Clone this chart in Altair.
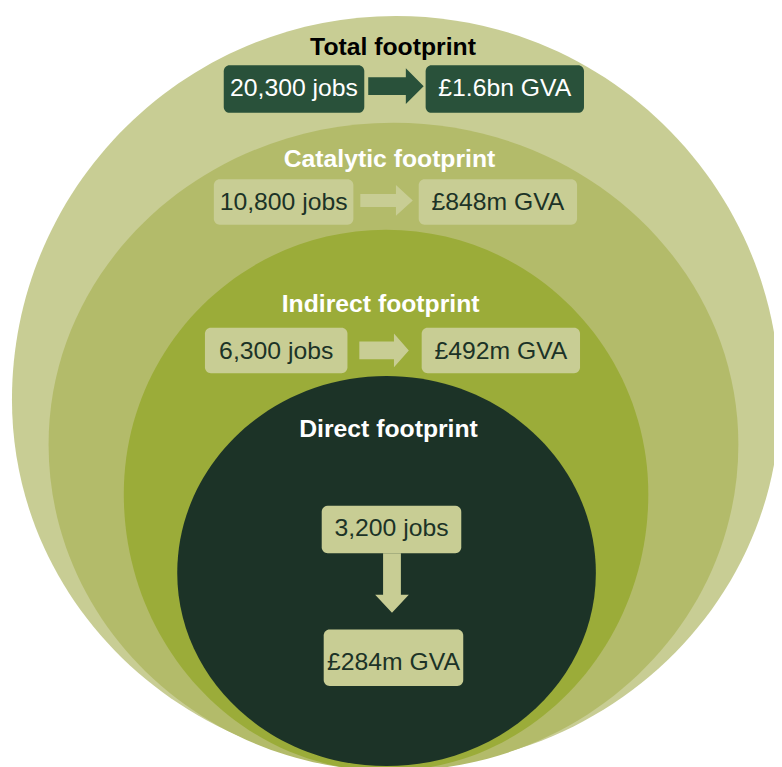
import altair as alt
import pandas as pd

# ---------------- data ----------------
levels = ["Total footprint", "Catalytic footprint", "Indirect footprint", "Direct footprint"]
jobs = ["20,300 jobs", "10,800 jobs", "6,300 jobs", "3,200 jobs"]
gva = ["£1.6bn GVA", "£848m GVA", "£492m GVA", "£284m GVA"]

# ---------------- layout (page pixels) ----------------
ring_cx = [400, 397.5, 390, 390.5]
ring_cy = [400, 445, 495, 575]
ring_a = [388, 348.5, 265, 211.5]
ring_top = [12, 120, 228, 376]
ring_bottom = [772, 775, 775, 770]
ring_fill = ["#c8cd94", "#b3bb6a", "#9bac39", "#1c3327"]

title_x = [397, 393.5, 384.5, 392.5]
title_base = [52, 165, 311, 438]
title_color = ["#000000", "#ffffff", "#ffffff", "#ffffff"]

# boxes: jobs box then GVA box for each level (x1, y1, x2, y2)
jobs_box = [(226, 62, 368, 110), (216, 177, 357, 223), (207, 327, 351, 373), (325, 507, 466, 555)]
gva_box = [(430, 62, 590, 110), (423, 177, 583, 223), (426, 327, 586, 373), (327, 632, 468, 689)]
jobs_base = [93, 208, 359, 538]
gva_base = [93, 208, 359, 673]
box_fill = ["#29513a", "#c8cd94", "#c8cd94", "#c8cd94"]
box_text = ["#ffffff", "#1c3327", "#1c3327", "#1c3327"]

# arrows: centre, half length, shaft half width, head half width, head start (fraction), direction
arrow_c = [(400, 83), (390.5, 198.5), (388, 350), (396, 585)]
arrow_half = [28, 26.5, 25, 30]
arrow_shaft = [9, 6.5, 9, 9]
arrow_head = [18, 15.5, 17, 17]
arrow_neck = [10, 9.5, 10, 12]
arrow_dir = ["right", "right", "right", "down"]
arrow_fill = ["#29513a", "#c8cd94", "#c8cd94", "#c8cd94"]

K = 0.5523


def egg_path(a, rt, rb):
    t = rt / a
    b = rb / a
    return (f"M1,0 C1,{K*b:.4f} {K:.4f},{b:.4f} 0,{b:.4f} "
            f"C{-K:.4f},{b:.4f} -1,{K*b:.4f} -1,0 "
            f"C-1,{-K*t:.4f} {-K:.4f},{-t:.4f} 0,{-t:.4f} "
            f"C{K:.4f},{-t:.4f} 1,{-K*t:.4f} 1,0 Z")


def arrow_path(half, shaft, head, neck, direction):
    s = shaft / half
    h = head / half
    n = neck / half
    pts = [(-1, -s), (n, -s), (n, -h), (1, 0), (n, h), (n, s), (-1, s)]
    if direction == "down":
        pts = [(-y, x) for x, y in pts]
    return "M" + " L".join(f"{x:.4f},{y:.4f}" for x, y in pts) + " Z"


rings = pd.DataFrame({
    "level": levels,
    "i": range(4),
    "x": ring_cx,
    "y": ring_cy,
    "size": [(2 * a) ** 2 for a in ring_a],
    "shape": [egg_path(a, cy - t, b - cy) for a, cy, t, b in zip(ring_a, ring_cy, ring_top, ring_bottom)],
    "fill": ring_fill,
})

rows = []
for i in range(4):
    for label, box, base in ((jobs[i], jobs_box[i], jobs_base[i]), (gva[i], gva_box[i], gva_base[i])):
        rows.append({"label": label, "x1": box[0], "y1": box[1], "x2": box[2], "y2": box[3],
                     "tx": (box[0] + box[2]) / 2, "ty": base,
                     "fill": box_fill[i], "tcolor": box_text[i]})
boxes = pd.DataFrame(rows)

titles = pd.DataFrame({"label": levels, "x": title_x, "y": title_base, "color": title_color})

arrows = pd.DataFrame({
    "x": [c[0] for c in arrow_c],
    "y": [c[1] for c in arrow_c],
    "size": [(2 * h) ** 2 for h in arrow_half],
    "shape": [arrow_path(*p) for p in zip(arrow_half, arrow_shaft, arrow_head, arrow_neck, arrow_dir)],
    "fill": arrow_fill,
})

X0, X1, Y0, Y1 = 8, 782, 8, 767
xs = alt.Scale(domain=[X0, X1], nice=False, zero=False)
ys = alt.Scale(domain=[Y0, Y1], nice=False, zero=False, reverse=True)

ring_layer = alt.Chart(rings).mark_point(filled=True, opacity=1, strokeWidth=0).encode(
    x=alt.X("x:Q", scale=xs, axis=None),
    y=alt.Y("y:Q", scale=ys, axis=None),
    size=alt.Size("size:Q", scale=None),
    shape=alt.Shape("shape:N", scale=None),
    fill=alt.Fill("fill:N", scale=None),
    order=alt.Order("i:Q"),
)

box_layer = alt.Chart(boxes).mark_rect(cornerRadius=6).encode(
    x=alt.X("x1:Q", scale=xs, axis=None),
    x2="x2:Q",
    y=alt.Y("y1:Q", scale=ys, axis=None),
    y2="y2:Q",
    fill=alt.Fill("fill:N", scale=None),
)

arrow_layer = alt.Chart(arrows).mark_point(filled=True, opacity=1, strokeWidth=0).encode(
    x=alt.X("x:Q", scale=xs, axis=None),
    y=alt.Y("y:Q", scale=ys, axis=None),
    size=alt.Size("size:Q", scale=None),
    shape=alt.Shape("shape:N", scale=None),
    fill=alt.Fill("fill:N", scale=None),
)

box_text_layer = alt.Chart(boxes).mark_text(
    font="Liberation Sans", fontSize=25, baseline="alphabetic", align="center"
).encode(
    x=alt.X("tx:Q", scale=xs, axis=None),
    y=alt.Y("ty:Q", scale=ys, axis=None),
    text="label:N",
    color=alt.Color("tcolor:N", scale=None),
)

title_layer = alt.Chart(titles).mark_text(
    font="Liberation Sans", fontSize=25, fontWeight="bold", baseline="alphabetic", align="center"
).encode(
    x=alt.X("x:Q", scale=xs, axis=None),
    y=alt.Y("y:Q", scale=ys, axis=None),
    text="label:N",
    color=alt.Color("color:N", scale=None),
)

chart = alt.layer(ring_layer, box_layer, arrow_layer, box_text_layer, title_layer).properties(
    width=X1 - X0,
    height=Y1 - Y0,
    padding=0,
    autosize=alt.AutoSizeParams(type="none"),
    background="#ffffff",
).configure_view(stroke=None)

chart.save("out.html", embed_options={"renderer": "svg", "actions": False})
